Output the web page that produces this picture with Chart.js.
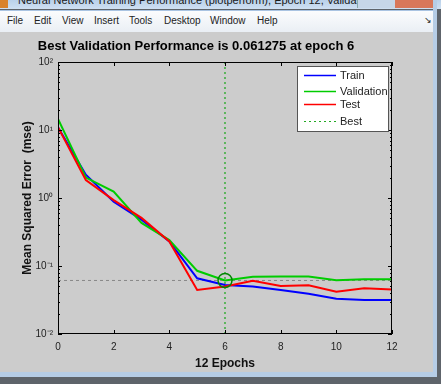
<!DOCTYPE html>
<html>
<head>
<meta charset="utf-8">
<script src="https://cdn.jsdelivr.net/npm/chart.js@4"></script>
<style>
body{margin:0;width:441px;height:384px;overflow:hidden;background:#5e646b;position:relative;font-family:"Liberation Sans",Arial,sans-serif}
#titlebar{position:absolute;left:0;top:0;width:441px;height:9px;overflow:hidden;background:linear-gradient(#b9d1ea,#cfe0f2)}
#titlebar span{position:absolute;left:18px;top:-6px;font-size:11px;color:#1a1a1a;white-space:nowrap}
#icon{position:absolute;left:0;top:0;width:8px;height:8px;background:#d9822b}
#closebtn{position:absolute;left:395px;top:0;width:38px;height:8px;background:#d8775a}
#minbtn{position:absolute;left:357px;top:0;width:38px;height:8px;background:#c6d6e8;border-left:1px solid #8aa}
#menubar{position:absolute;left:0;top:10px;width:433px;height:22px;background:linear-gradient(#fbfcfd,#e9eef4);border-top:1px solid #aac4e2}
#menubar span{position:absolute;top:4px;font-size:10px;color:#222}
#fig{position:absolute;left:0;top:32px;width:433px;height:340px;background:#cccccc}
#rightframe{position:absolute;left:433px;top:0;width:4px;height:377px;background:#b6cde6}
#bottomframe{position:absolute;left:0;top:372px;width:437px;height:5px;background:#b6cde6;border-bottom-right-radius:4px}
</style>
</head>
<body>
<div id="titlebar"><span>Neural Network Training Performance (plotperform), Epoch 12, Validation stop.</span></div>
<div id="icon"></div>
<div id="minbtn"></div>
<div id="closebtn"></div>
<div id="menubar">
<span style="left:7px">File</span><span style="left:34px">Edit</span><span style="left:62px">View</span><span style="left:94px">Insert</span><span style="left:129px">Tools</span><span style="left:164px">Desktop</span><span style="left:210px">Window</span><span style="left:257px">Help</span><span style="left:424px;font-size:9px">&#8600;</span>
</div>
<div id="rightframe"></div>
<div id="bottomframe"></div>
<div id="fig"><canvas id="myChart"></canvas></div>
<script>
const epochs = [0,1,2,3,4,5,6,7,8,9,10,11,12];
const trainMse = [11, 2.2, 0.88, 0.48, 0.23, 0.066, 0.0525, 0.05, 0.0445, 0.039, 0.033, 0.0316, 0.0316];
const validationMse = [14.5, 2.0, 1.24, 0.43, 0.24, 0.085, 0.061275, 0.0697, 0.07, 0.07, 0.0616, 0.0637, 0.0637];
const testMse = [11, 1.84, 0.93, 0.51, 0.23, 0.0444, 0.05, 0.0608, 0.051, 0.052, 0.0417, 0.047, 0.045];
const bestEpoch = 6;
const bestPerf = 0.061275;
const xTicks = [0,2,4,6,8,10,12];
const yTicks = [0.01,0.1,1,10,100];
const supers = {'-2':'\u207B\u00B2','-1':'\u207B\u00B9','0':'\u2070','1':'\u00B9','2':'\u00B2'};

function pts(vals){
    return epochs.map((e,i)=>({x:e,y:vals[i]}));
}

// ticks inside the box, like matlab
const boxTicks = {
    id:'boxTicks',
    afterDraw(chart){
        const ctx=chart.ctx, a=chart.chartArea, xs=chart.scales.x, ys=chart.scales.y;
        ctx.save();
        ctx.strokeStyle='#000';
        ctx.lineWidth=1;
        ctx.strokeRect(a.left+0.5,a.top+0.5,a.right-a.left-1,a.bottom-a.top-1);
        ctx.beginPath();
        xTicks.forEach(t=>{
            let px=Math.round(xs.getPixelForValue(t))+0.5;
            ctx.moveTo(px,a.bottom);ctx.lineTo(px,a.bottom-4);
            ctx.moveTo(px,a.top);ctx.lineTo(px,a.top+4);
        });
        yTicks.forEach((d,i)=>{
            for(let k=1;k<10;k++){
                if(k>1 && i==yTicks.length-1) break;
                let py=Math.round(ys.getPixelForValue(d*k))+0.5;
                let len=k==1?4:2;
                ctx.moveTo(a.left,py);ctx.lineTo(a.left+len,py);
                ctx.moveTo(a.right,py);ctx.lineTo(a.right-len,py);
            }
        });
        ctx.stroke();
        ctx.restore();
    }
};

// legend box in the top right corner
const insideLegend = {
    id:'insideLegend',
    afterDraw(chart){
        const ctx=chart.ctx;
        const items=chart.data.datasets.filter(d=>d.label);
        const x0=297, y0=34, w=91, h=65;
        ctx.save();
        ctx.fillStyle='#fff';
        ctx.fillRect(x0,y0,w,h);
        ctx.strokeStyle='#555';
        ctx.lineWidth=1;
        ctx.strokeRect(x0+0.5,y0+0.5,w,h);
        ctx.font='11px Arial';
        ctx.textBaseline='middle';
        const rowY=[43,59,72,89];
        items.forEach((d,i)=>{
            let y=rowY[i]+0.5;
            ctx.strokeStyle=d.borderColor;
            ctx.lineWidth=d.label=='Best'?1:1.5;
            ctx.setLineDash(d.borderDash||[]);
            ctx.beginPath();ctx.moveTo(304,y);ctx.lineTo(336,y);ctx.stroke();
            ctx.setLineDash([]);
            ctx.fillStyle='#222';
            ctx.fillText(d.label,340,y);
        });
        ctx.restore();
    }
};

const ctx = document.getElementById('myChart').getContext('2d');
const myChart = new Chart(ctx, {
    type:'line',
    data:{
        datasets:[
            {label:'Train',data:pts(trainMse),borderColor:'#0000ff',borderWidth:2,pointRadius:0,order:3},
            {label:'Validation',data:pts(validationMse),borderColor:'#00cc00',borderWidth:2,pointRadius:0,order:2},
            {label:'Test',data:pts(testMse),borderColor:'#ff0000',borderWidth:2,pointRadius:0,order:1},
            {label:'Best',data:[{x:bestEpoch,y:yTicks[0]},{x:bestEpoch,y:yTicks[yTicks.length-1]}],borderColor:'#22aa22',borderWidth:1.3,borderDash:[2,3],pointRadius:0,order:5},
            {label:'',data:[{x:epochs[0],y:bestPerf},{x:epochs[epochs.length-1],y:bestPerf}],borderColor:'#888888',borderWidth:1,borderDash:[3,3],pointRadius:0,order:6},
            {label:'',data:[{x:bestEpoch,y:bestPerf}],borderColor:'#008800',borderWidth:1.5,pointRadius:7,pointBackgroundColor:'rgba(0,0,0,0)',showLine:false,order:0}
        ]
    },
    options:{
        responsive:true,
        maintainAspectRatio:false,
        animation:false,
        layout:{padding:{left:0,right:41,top:0,bottom:0}},
        plugins:{
            legend:{display:false},
            tooltip:{enabled:false},
            title:{display:true,text:'Best Validation Performance is 0.061275 at epoch 6',color:'#000',font:{family:'Arial',size:13,weight:'bold'},padding:{top:7,bottom:7.4}}
        },
        scales:{
            x:{
                type:'linear',min:0,max:12,
                afterBuildTicks:s=>{s.ticks=xTicks.map(v=>({value:v}));},
                afterFit:s=>{s.height=38;},
                grid:{display:false,drawTicks:false},
                border:{display:false},
                ticks:{color:'#222',font:{family:'Arial',size:10},padding:7,maxRotation:0,autoSkip:false},
                title:{display:true,text:'12 Epochs',color:'#111',font:{family:'Arial',size:12,weight:'bold'},padding:{top:0,bottom:1}}
            },
            y:{
                type:'logarithmic',min:0.01,max:100,
                afterBuildTicks:s=>{s.ticks=yTicks.map(v=>({value:v}));},
                afterFit:s=>{s.width=58;},
                grid:{display:false,drawTicks:false},
                border:{display:false},
                ticks:{color:'#222',font:{family:'Arial',size:10},padding:5,autoSkip:false,
                    callback:v=>{let e=Math.round(Math.log10(v));return '10'+supers[e];}},
                title:{display:true,text:'Mean Squared Error  (mse)',color:'#111',font:{family:'Arial',size:12,weight:'bold'},padding:{top:20,bottom:0}}
            }
        }
    },
    plugins:[boxTicks,insideLegend]
});
</script>
</body>
</html>
